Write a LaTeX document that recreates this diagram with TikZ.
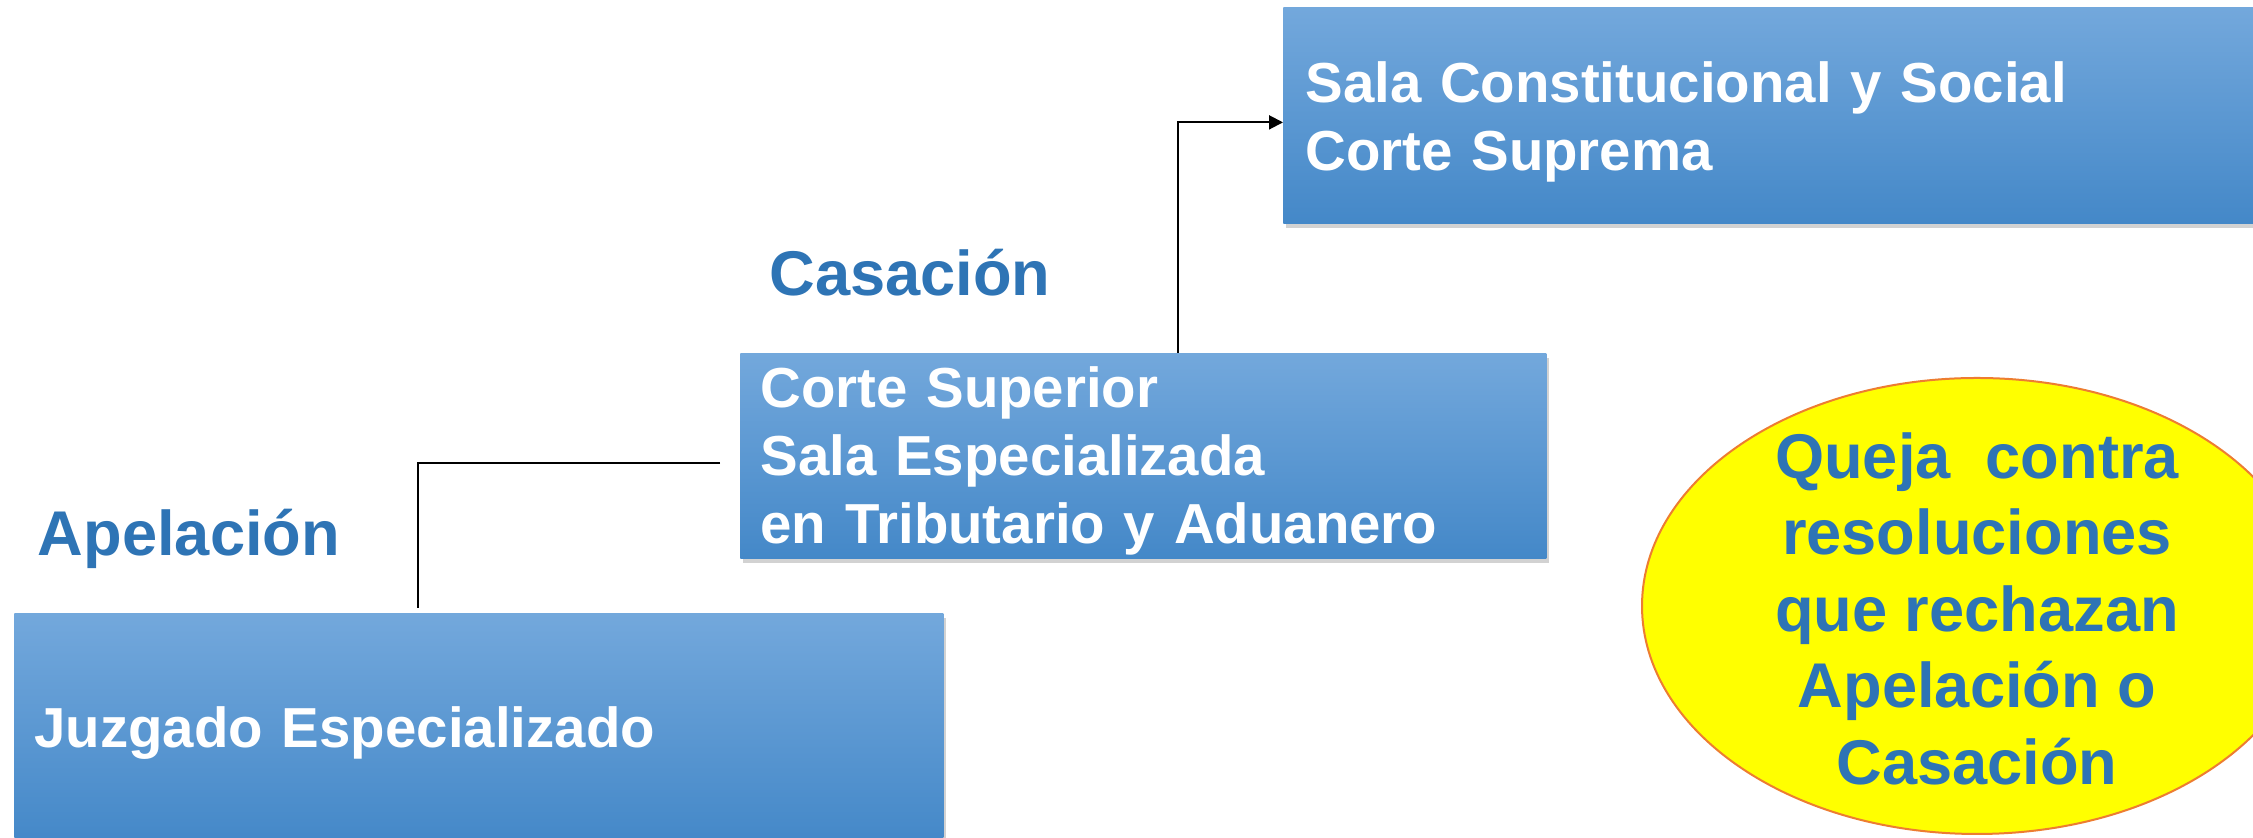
\documentclass[tikz,border=0pt]{standalone}
\usepackage{fontspec}
\setmainfont{Liberation Sans}
\usetikzlibrary{arrows.meta,shadows,shapes.geometric}
\definecolor{boxtop}{RGB}{115,168,220}
\definecolor{boxbot}{RGB}{68,136,200}
\definecolor{lblblue}{RGB}{46,116,181}
\definecolor{elfill}{RGB}{255,255,0}
\definecolor{elline}{RGB}{237,125,49}
\newcommand\lowtext[3]{\raisebox{-#1}[\height][\depth]{\begin{tabular}{@{}#2@{}}#3\end{tabular}}}
\begin{document}
\begin{tikzpicture}[x=0.5pt,y=0.5pt,
  box/.style={anchor=north west, inner xsep=10pt, inner ysep=0pt, align=left,
    text=white, font=\bfseries\fontsize{28.2}{34}\selectfont,
    top color=boxtop, bottom color=boxbot,
    drop shadow={shadow xshift=1.5pt,shadow yshift=-2.5pt,opacity=0.35}},
  lbl/.style={text=lblblue, font=\bfseries\fontsize{31.6}{38.3}\selectfont},
  conn/.style={draw=black, line width=1pt}]
\useasboundingbox (0,0) rectangle (2253,838);
\clip (0,0) rectangle (2253,838);
\fill[white] (0,0) rectangle (2253,838);
\node[box, text width=463pt, minimum height=108pt, inner xsep=11pt] (sup) at (1283,831) {\lowtext{4pt}{l}{Sala Constitucional y Social\\Corte Suprema}};
\node[box, text width=383pt, minimum height=102.5pt] (mid) at (740,485) {\lowtext{3pt}{l}{Corte Superior\\Sala Especializada\\en Tributario y Aduanero}};
\node[box, text width=444.5pt, minimum height=115pt] (jz) at (14,225) {\lowtext{3pt}{l}{Juzgado Especializado}};
\node[lbl] (cas) at (910,565) {Casación};
\node[lbl] (ape) at (189,299) {Apelación};
\node[ellipse, draw=elline, line width=1pt, fill=elfill, minimum width=335pt, minimum height=228pt, inner sep=-20pt, lbl] (que) at (1977,232) {\lowtext{5pt}{c}{Queja\ \ contra\\resoluciones\\que rechazan\\Apelación o\\Casación}};
\draw[conn, -{Triangle[length=7pt,width=7pt]}] ([xshift=17.5pt]mid.north) |- ([yshift=-3.5pt]sup.west);
\draw[conn] ([shift={(-10pt,-3.75pt)}]mid.west) -| ([shift={(-30.25pt,2.5pt)}]jz.north);
\end{tikzpicture}
\end{document}
